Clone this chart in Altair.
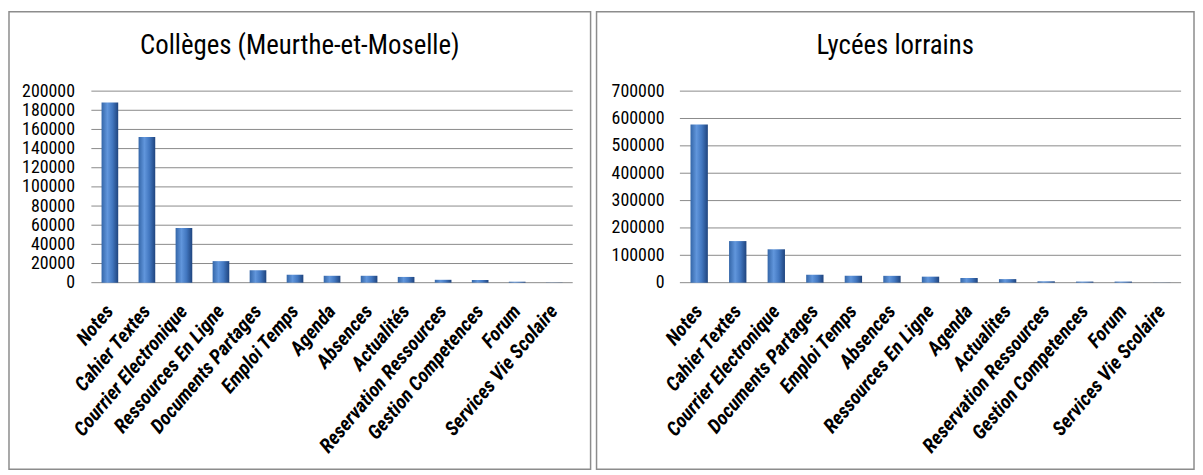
import altair as alt
import pandas as pd

# ---- data ----
cats_left = ["Notes", "Cahier Textes", "Courrier Electronique", "Ressources En Ligne",
             "Documents Partages", "Emploi Temps", "Agenda", "Absences", "Actualités",
             "Reservation Ressources", "Gestion Competences", "Forum", "Services Vie Scolaire"]
vals_left = [188000, 152000, 57000, 22500, 13000, 8300, 7200, 7200, 6000, 3000, 2800, 1000, 200]
ticks_left = [0, 20000, 40000, 60000, 80000, 100000, 120000, 140000, 160000, 180000, 200000]

cats_right = ["Notes", "Cahier Textes", "Courrier Electronique", "Documents Partages",
              "Emploi Temps", "Absences", "Ressources En Ligne", "Agenda", "Actualites",
              "Reservation Ressources", "Gestion Competences", "Forum", "Services Vie Scolaire"]
vals_right = [578000, 152000, 122000, 29000, 25000, 25000, 22000, 17000, 13000, 5000, 4000, 4000, 500]
ticks_right = [0, 100000, 200000, 300000, 400000, 500000, 600000, 700000]

FONT = "Liberation Sans Narrow, Roboto Condensed, Liberation Sans, sans-serif"

grad = alt.Gradient(
    gradient="linear", x1=0, x2=1, y1=0, y2=0,
    stops=[alt.GradientStop(color="#3466A8", offset=0),
           alt.GradientStop(color="#6196DC", offset=0.35),
           alt.GradientStop(color="#4277C0", offset=0.65),
           alt.GradientStop(color="#1F447E", offset=1)])

H = 461
Y_TOP, Y_BOT = 80, 273


def panel(cats, vals, ticks, ymax, title, W, pl, pr, lpad):
    df = pd.DataFrame({"cat": cats, "val": vals})
    tdf = pd.DataFrame({"t": ticks})
    yscale = alt.Scale(domain=[0, ymax], range=[Y_BOT, Y_TOP], nice=False, zero=True)
    yaxis = alt.Axis(title=None, values=ticks, offset=-pl, ticks=False,
                     domain=False, grid=False, labelPadding=lpad,
                     labelFontSize=18, labelFont=FONT, labelColor="black",
                     labelOverlap=False, labelBound=False, format="d")
    rules = alt.Chart(tdf).mark_rule(color="#8a8a8a", strokeWidth=1).encode(
        y=alt.Y("t:Q", scale=yscale, axis=yaxis),
        x=alt.value(pl), x2=alt.value(pr),
    )
    bars = alt.Chart(df).mark_bar(color=grad).encode(
        x=alt.X("cat:N", sort=cats,
                scale=alt.Scale(range=[pl, pr], paddingInner=0.55, paddingOuter=0.275),
                axis=alt.Axis(title=None, orient="bottom", offset=-(H - Y_BOT),
                              labelAngle=-50, labelAlign="right", labelBaseline="middle",
                              labelFont=FONT, labelFontSize=20, labelFontWeight="bold",
                              labelFontStyle="italic", labelColor="black", labelPadding=25,
                              ticks=False, domain=False, labelOverlap=False,
                              labelBound=False, labelLimit=400)),
        y=alt.Y("val:Q", scale=yscale, axis=yaxis),
    )
    return alt.layer(rules, bars).properties(
        width=W, height=H,
        title=alt.TitleParams(text=title, font=FONT, fontSize=27, fontWeight="normal",
                              color="black", anchor="middle", frame="group",
                              offset=-62, baseline="middle"),
    )


left = panel(cats_left, vals_left, ticks_left, 200000, "Collèges (Meurthe-et-Moselle)",
             586, 83, 568, 17)
right = panel(cats_right, vals_right, ticks_right, 700000, "Lycées lorrains",
              602, 84, 589, 16)

chart = alt.hconcat(left, right, spacing=4).properties(
    padding={"left": 0, "top": 1, "right": 0, "bottom": 0},
    background="white",
).configure_view(stroke="#8c8c8c", strokeWidth=1.5)

chart.save("out.html", embed_options={"renderer": "svg", "actions": False})
